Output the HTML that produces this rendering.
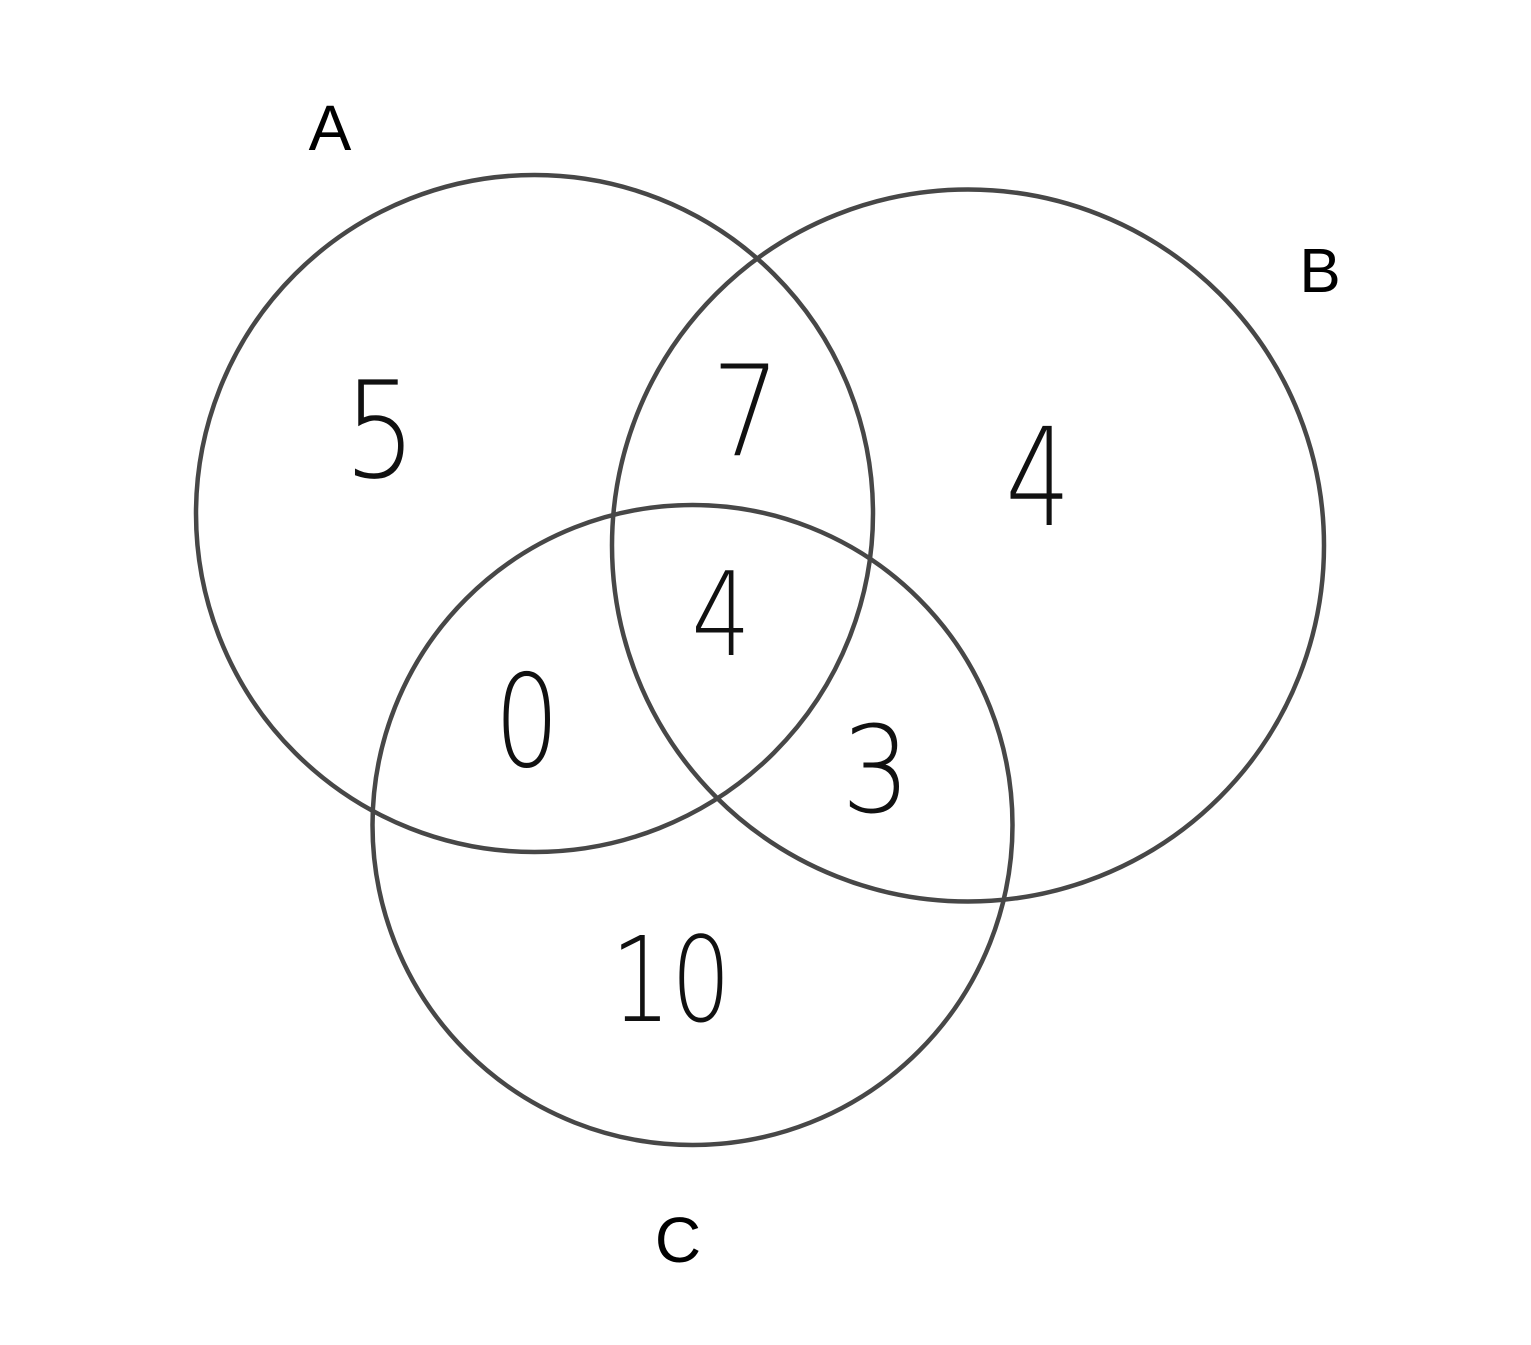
<!DOCTYPE html>
<html><head><meta charset="utf-8"><style>html,body{margin:0;padding:0;background:#fff;}svg{display:block}</style></head>
<body>
<svg width="1531" height="1345" viewBox="0 0 1531 1345" xmlns="http://www.w3.org/2000/svg">
<rect width="1531" height="1345" fill="#fff"/>
<g fill="none" stroke="#474747" stroke-width="4.5">
<circle cx="534.5" cy="513.5" r="338.5"/>
<circle cx="968" cy="545.5" r="356"/>
<circle cx="692.5" cy="825" r="320"/>
</g>
<g font-family="'Liberation Sans', sans-serif" fill="#000" text-anchor="middle">
<text x="330" y="150" font-size="64">A</text>
<text x="1320" y="292" font-size="62">B</text>
<text x="678" y="1262" font-size="64">C</text>
</g>
<g font-family="'DejaVu Sans', sans-serif" font-weight="200" fill="#111" text-anchor="middle">
<text x="380" y="477" font-size="134" transform="translate(380 0) scale(0.85 1) translate(-380 0)">5</text>
<text x="746" y="455" font-size="126" transform="translate(746 0) scale(0.85 1) translate(-746 0)">7</text>
<text x="1038" y="525" font-size="136" transform="translate(1038 0) scale(0.75 1) translate(-1038 0)">4</text>
<text x="721" y="655" font-size="116" transform="translate(721 0) scale(0.8 1) translate(-721 0)">4</text>
<text x="527" y="766" font-size="128" transform="translate(527 0) scale(0.8 1) translate(-527 0)">0</text>
<text x="876" y="812" font-size="120" transform="translate(876 0) scale(0.9 1) translate(-876 0)">3</text>
<text x="671" y="1021" font-size="118" transform="translate(671 0) scale(0.8 1) translate(-671 0)">10</text>
</g>
</svg>
</body></html>
